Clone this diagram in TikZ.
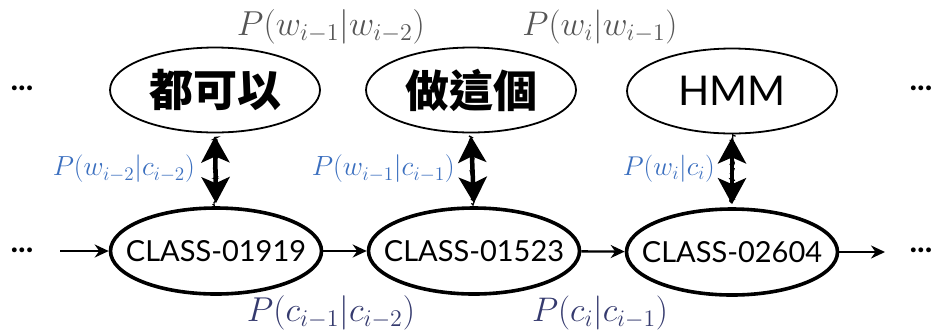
\documentclass[tikz,border=0pt]{standalone}
\usepackage{fontspec}
\newfontfamily\gill{Lato}
\newfontfamily\cjk{Noto Sans CJK TC}
\usetikzlibrary{arrows.meta,decorations.pathmorphing,shapes.geometric}
\definecolor{topgray}{HTML}{555555}
\definecolor{emblue}{HTML}{3B6FBF}
\definecolor{navy}{HTML}{353A6E}
\newcommand{\fitlab}[2]{\resizebox{#1}{!}{\huge$#2$}}
\begin{document}
\begin{tikzpicture}[x=1pt,y=-1pt,
  word/.style={draw,ellipse,line width=1.8pt,minimum width=210pt,minimum height=85pt,inner xsep=-20pt,inner ysep=0pt},
  cls/.style={draw,ellipse,line width=3.6pt,minimum width=211pt,minimum height=86pt,inner xsep=-20pt,inner ysep=0pt,font=\gill\fontsize{29}{29}\selectfont},
  dots/.style={font=\gill\bfseries\fontsize{32}{32}\selectfont,inner sep=0pt},
  trans/.style={line width=2.4pt,-{Stealth[length=14pt,width=13pt]}},
  emit/.style={line width=4.5pt,{Stealth[length=26pt,width=28pt,inset=6pt]}-{Stealth[length=26pt,width=28pt,inset=6pt]},shorten <=3pt,shorten >=3pt,
     postaction={draw,line width=1.2pt,-,shorten <=4pt,shorten >=4pt,decorate,decoration={random steps,segment length=2pt,amplitude=2.5pt}}},
  tlab/.style={text=topgray,inner sep=0pt},
  blab/.style={text=emblue,inner sep=0pt,anchor=east},
  nlab/.style={text=navy,inner sep=0pt}]
\useasboundingbox (0,0) rectangle (933,333);
\node[word] (w1) at (215,90) {\cjk\bfseries\fontsize{44}{44}\selectfont 都可以};
\node[word] (w2) at (471,90) {\cjk\bfseries\fontsize{44}{44}\selectfont 做這個};
\node[word] (w3) at (732,91) {\gill\fontsize{41}{41}\selectfont HMM};
\node[cls] (c1) at (216,251) {CLASS-01919};
\node[cls] (c2) at (474,251) {CLASS-01523};
\node[cls] (c3) at (732,252) {CLASS-02604};
\node[dots] (dl1) at (22,88) {...};
\node[dots] (dl2) at (22,250) {...};
\node[dots] (dr1) at (921,88) {...};
\node[dots] (dr2) at (921,250) {...};
\coordinate (sl) at (60,251);
\coordinate (sr) at (885,252);
\draw[trans] (sl) -- (c1);
\draw[trans] (c1) -- (c2);
\draw[trans] (c2) -- (c3);
\draw[trans] (c3) -- (sr);
\draw[emit] (w1.south) -- (c1.north);
\draw[emit] (w2.south) -- (c2.north);
\draw[emit] (w3.south) -- (c3.north);
\node[tlab] (t1) at (331,27) {\fitlab{188pt}{P(w_{i-1}|w_{i-2})}};
\node[tlab] (t2) at (600,27) {\fitlab{155pt}{P(w_{i}|w_{i-1})}};
\node[blab] (b1) at (195,169) {\fitlab{142pt}{P(w_{i-2}|c_{i-2})}};
\node[blab] (b2) at (455,169) {\fitlab{143pt}{P(w_{i-1}|c_{i-1})}};
\node[blab] (b3) at (715,169) {\fitlab{92pt}{P(w_{i}|c_{i})}};
\node[nlab] (n1) at (331,313) {\fitlab{168pt}{P(c_{i-1}|c_{i-2})}};
\node[nlab] (n2) at (600,313) {\fitlab{136pt}{P(c_{i}|c_{i-1})}};
\end{tikzpicture}
\end{document}
